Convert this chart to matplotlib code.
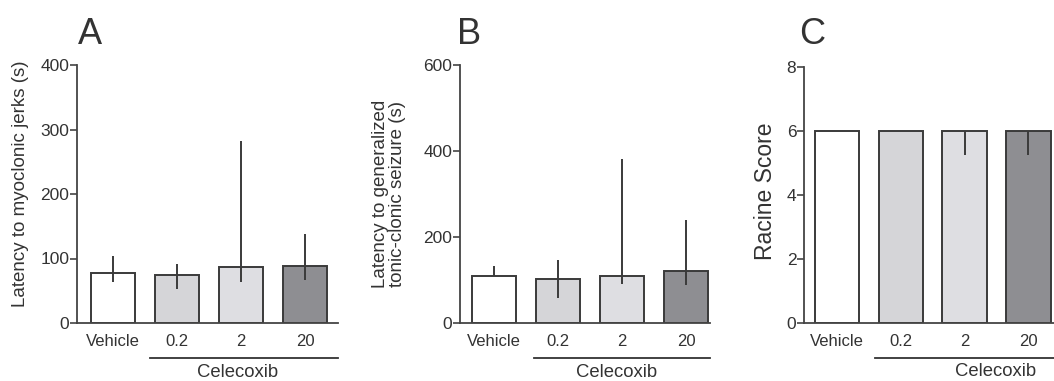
import matplotlib
matplotlib.use('Agg')
import matplotlib.pyplot as plt
import matplotlib.transforms as mtransforms

plt.rcParams['font.family'] = ['Liberation Sans', 'DejaVu Sans']

groups = ['Vehicle', '0.2', '2', '20']
bar_colors = ['#ffffff', '#d5d5d8', '#dedee2', '#8e8e92']

# latency to myoclonic jerks (s): bar height, lower / upper whisker ends
jerks = [77, 74, 87, 89]
jerks_lo = [63, 52, 64, 67]
jerks_hi = [104, 91, 282, 138]

# latency to generalized tonic-clonic seizure (s)
gtcs = [109, 103, 109, 121]
gtcs_lo = [109, 58, 90, 88]
gtcs_hi = [133, 147, 382, 239]

# racine score
racine = [6, 6, 6, 6]
racine_lo = [6, 6, 5.25, 5.25]
racine_hi = [6, 6, 6, 6]

edge = '#3a3a3a'
txt = '#333333'

fig = plt.figure(figsize=(10.54, 3.81), dpi=100)
W, H = 1054, 381


def px_axes(left, right, top, bottom):
    return fig.add_axes([left / W, 1 - bottom / H, (right - left) / W, (bottom - top) / H])


panels = [
    dict(box=(77, 338, 65, 323), xlim=(-0.5625, 3.516), vals=jerks, lo=jerks_lo, hi=jerks_hi,
         ylim=400, yticks=[0, 100, 200, 300, 400], ylabel='Latency to myoclonic jerks (s)',
         ylabel_size=13.5, ylabel_pos=(21, 184),
         letter='A', letter_x=78, line_start=0.58, celecoxib_x=1.94),
    dict(box=(460, 710, 65, 323), xlim=(-0.53, 3.375), vals=gtcs, lo=gtcs_lo, hi=gtcs_hi,
         ylim=600, yticks=[0, 200, 400, 600],
         ylabel='Latency to generalized\ntonic-clonic seizure (s)',
         ylabel_size=13.5, ylabel_pos=(389, 194),
         letter='B', letter_x=457, line_start=0.625, celecoxib_x=1.92),
    dict(box=(804, 1056, 67, 323), xlim=(-0.51, 3.43), vals=racine, lo=racine_lo, hi=racine_hi,
         ylim=8, yticks=[0, 2, 4, 6, 8], ylabel='Racine Score',
         ylabel_size=16.5, ylabel_pos=(766, 191),
         letter='C', letter_x=799, line_start=0.6, celecoxib_x=2.48),
]

for p in panels:
    left, right, top, bottom = p['box']
    ax = px_axes(left, right, top, bottom)
    x = range(len(groups))
    ax.bar(x, p['vals'], width=0.69, color=bar_colors, edgecolor=edge, linewidth=1.4, zorder=2)
    ax.vlines(x, p['lo'], p['hi'], color=edge, linewidth=1.4, zorder=3)
    ax.set_xlim(*p['xlim'])
    ax.set_ylim(0, p['ylim'])
    ax.set_yticks(p['yticks'])
    ax.set_xticks(list(x))
    ax.set_xticklabels(groups, fontsize=12, color=txt)
    ax.tick_params(axis='x', length=0, pad=8)
    ax.tick_params(axis='y', length=5, width=1.2, color='#444444', labelsize=12.5,
                   labelcolor=txt, pad=0.5)
    for s in ['top', 'right']:
        ax.spines[s].set_visible(False)
    for s in ['left', 'bottom']:
        ax.spines[s].set_color('#444444')
        ax.spines[s].set_linewidth(1.3)

    # underline grouping the celecoxib doses
    tr = mtransforms.blended_transform_factory(ax.transData, ax.transAxes)
    ax.plot([p['line_start'], p['xlim'][1]], [-0.136, -0.136], transform=tr,
            color=txt, linewidth=1.3, clip_on=False)
    ax.text(p['celecoxib_x'], -0.19, 'Celecoxib', transform=tr,
            ha='center', va='center', fontsize=13.3, color=txt)

    lx, ly = p['ylabel_pos']
    fig.text(lx / W, 1 - ly / H, p['ylabel'], rotation=90, ha='center', va='center',
             fontsize=p['ylabel_size'], color=txt, linespacing=1.0)
    fig.text(p['letter_x'] / W, 1 - 44 / H, p['letter'], ha='left', va='baseline',
             fontsize=26, color=txt)

fig.savefig('out.png', dpi=100)
